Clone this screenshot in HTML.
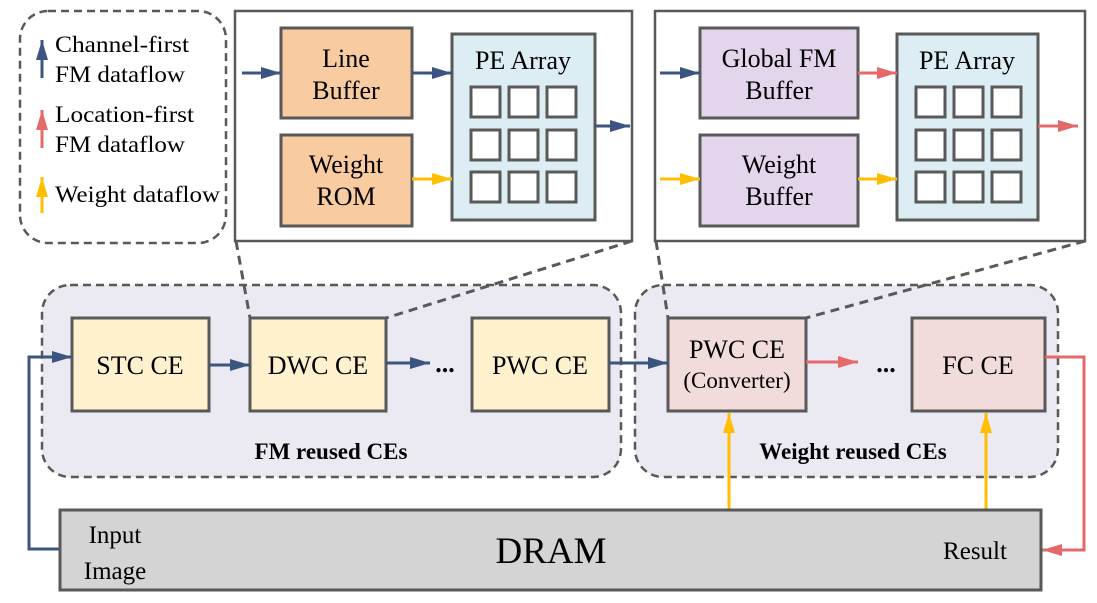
<!DOCTYPE html>
<html><head><meta charset="utf-8"><style>
html,body{margin:0;padding:0;background:#fff;}
svg{display:block;}
svg text{font-family:"Liberation Serif","DejaVu Serif",serif;}
</style></head><body>
<svg width="1097" height="603" viewBox="0 0 1097 603" xmlns="http://www.w3.org/2000/svg" font-family="Liberation Serif, DejaVu Serif, serif">
<defs>
<marker id="ab" viewBox="0 0 10 10" refX="10" refY="5" markerWidth="20" markerHeight="12" orient="auto" markerUnits="userSpaceOnUse" preserveAspectRatio="none"><path d="M0,0 L10,5 L0,10 Z" fill="#3b5580"/></marker>
<marker id="ar" viewBox="0 0 10 10" refX="10" refY="5" markerWidth="20" markerHeight="12" orient="auto" markerUnits="userSpaceOnUse" preserveAspectRatio="none"><path d="M0,0 L10,5 L0,10 Z" fill="#e46a6a"/></marker>
<marker id="ay" viewBox="0 0 10 10" refX="10" refY="5" markerWidth="20" markerHeight="12" orient="auto" markerUnits="userSpaceOnUse" preserveAspectRatio="none"><path d="M0,0 L10,5 L0,10 Z" fill="#ffbf00"/></marker>
</defs>

<!-- legend -->
<rect x="20" y="11" width="206" height="232" rx="28" fill="#fff" stroke="#595959" stroke-width="2.5" stroke-dasharray="8,5"/>
<line x1="42" y1="78" x2="42" y2="40" stroke="#3b5580" stroke-width="3" marker-end="url(#ab)"/>
<line x1="42" y1="148" x2="42" y2="110" stroke="#e46a6a" stroke-width="3" marker-end="url(#ar)"/>
<line x1="42" y1="213" x2="42" y2="177" stroke="#ffbf00" stroke-width="3" marker-end="url(#ay)"/>
<g font-size="23" fill="#000" font-family="Liberation Serif, serif">
<text x="55" y="52" textLength="134" lengthAdjust="spacingAndGlyphs">Channel-first</text>
<text x="55" y="82" textLength="130" lengthAdjust="spacingAndGlyphs">FM dataflow</text>
<text x="55" y="122" textLength="139" lengthAdjust="spacingAndGlyphs">Location-first</text>
<text x="55" y="152" textLength="130" lengthAdjust="spacingAndGlyphs">FM dataflow</text>
<text x="55" y="202" textLength="165" lengthAdjust="spacingAndGlyphs">Weight dataflow</text>
</g>

<!-- top-left box -->
<rect x="235" y="11" width="397" height="230" fill="#fff" stroke="#595959" stroke-width="2.5"/>
<rect x="281" y="28" width="131" height="90" fill="#f8cba0" stroke="#595959" stroke-width="3"/>
<rect x="281" y="135" width="131" height="91" fill="#f8cba0" stroke="#595959" stroke-width="3"/>
<rect x="452" y="34" width="143" height="186" fill="#ddedf4" stroke="#595959" stroke-width="3"/>
<g font-size="26" text-anchor="middle" font-family="Liberation Serif, serif">
<text x="346" y="67">Line</text><text x="346" y="99">Buffer</text>
<text x="346" y="173">Weight</text><text x="346" y="205">ROM</text>
<text x="523" y="69">PE Array</text>
</g>
<g fill="#fff" stroke="#595959" stroke-width="3">
<rect x="471" y="87" width="29" height="30"/><rect x="509" y="87" width="29" height="30"/><rect x="547" y="87" width="29" height="30"/>
<rect x="471" y="130" width="29" height="30"/><rect x="509" y="130" width="29" height="30"/><rect x="547" y="130" width="29" height="30"/>
<rect x="471" y="172" width="29" height="30"/><rect x="509" y="172" width="29" height="30"/><rect x="547" y="172" width="29" height="30"/>
</g>
<line x1="242" y1="73" x2="281" y2="73" stroke="#3b5580" stroke-width="3" marker-end="url(#ab)"/>
<line x1="412" y1="73" x2="452" y2="73" stroke="#3b5580" stroke-width="3" marker-end="url(#ab)"/>
<line x1="412" y1="179" x2="452" y2="179" stroke="#ffbf00" stroke-width="3" marker-end="url(#ay)"/>
<line x1="595" y1="126" x2="630" y2="126" stroke="#3b5580" stroke-width="3" marker-end="url(#ab)"/>

<!-- top-right box -->
<rect x="655" y="11" width="430" height="230" fill="#fff" stroke="#595959" stroke-width="2.5"/>
<rect x="700" y="28" width="158" height="90" fill="#e2d5ec" stroke="#595959" stroke-width="3"/>
<rect x="700" y="135" width="158" height="91" fill="#e2d5ec" stroke="#595959" stroke-width="3"/>
<rect x="897" y="34" width="141" height="186" fill="#ddedf4" stroke="#595959" stroke-width="3"/>
<g font-size="26" text-anchor="middle" font-family="Liberation Serif, serif">
<text x="779" y="67">Global FM</text><text x="779" y="99">Buffer</text>
<text x="779" y="173">Weight</text><text x="779" y="205">Buffer</text>
<text x="967" y="69">PE Array</text>
</g>
<g fill="#fff" stroke="#595959" stroke-width="3">
<rect x="916" y="87" width="29" height="30"/><rect x="954" y="87" width="29" height="30"/><rect x="992" y="87" width="29" height="30"/>
<rect x="916" y="130" width="29" height="30"/><rect x="954" y="130" width="29" height="30"/><rect x="992" y="130" width="29" height="30"/>
<rect x="916" y="172" width="29" height="30"/><rect x="954" y="172" width="29" height="30"/><rect x="992" y="172" width="29" height="30"/>
</g>
<line x1="660" y1="73" x2="700" y2="73" stroke="#3b5580" stroke-width="3" marker-end="url(#ab)"/>
<line x1="858" y1="73" x2="897" y2="73" stroke="#e46a6a" stroke-width="3" marker-end="url(#ar)"/>
<line x1="660" y1="179" x2="700" y2="179" stroke="#ffbf00" stroke-width="3" marker-end="url(#ay)"/>
<line x1="858" y1="179" x2="897" y2="179" stroke="#ffbf00" stroke-width="3" marker-end="url(#ay)"/>
<line x1="1038" y1="126" x2="1078" y2="126" stroke="#e46a6a" stroke-width="3" marker-end="url(#ar)"/>

<!-- groups -->
<rect x="42" y="285" width="579" height="192" rx="28" fill="#ebe9f1" stroke="#595959" stroke-width="2.5" stroke-dasharray="8,5"/>
<rect x="635" y="285" width="423" height="192" rx="28" fill="#ebe9f1" stroke="#595959" stroke-width="2.5" stroke-dasharray="8,5"/>
<g stroke="#595959" stroke-width="3" stroke-dasharray="9,6" fill="none">
<line x1="236" y1="241" x2="250" y2="318"/>
<line x1="632" y1="241" x2="386" y2="318"/>
<line x1="656" y1="241" x2="668" y2="318"/>
<line x1="1085" y1="241" x2="806" y2="318"/>
</g>

<g stroke="#595959" stroke-width="3">
<rect x="72" y="318" width="137" height="93" fill="#fff0ce"/>
<rect x="250" y="318" width="136" height="93" fill="#fff0ce"/>
<rect x="472" y="318" width="137" height="93" fill="#fff0ce"/>
<rect x="668" y="318" width="138" height="93" fill="#f2dbdb"/>
<rect x="912" y="318" width="133" height="93" fill="#f2dbdb"/>
</g>
<g font-size="26" text-anchor="middle" font-family="Liberation Serif, serif">
<text x="140" y="374">STC CE</text>
<text x="318" y="374">DWC CE</text>
<text x="540" y="374">PWC CE</text>
<text x="737" y="358">PWC CE</text>
<text x="737" y="388" font-size="23">(Converter)</text>
<text x="978" y="374">FC CE</text>
<text x="445" y="372" font-weight="bold">...</text>
<text x="886" y="372" font-weight="bold">...</text>
</g>
<g font-size="23" font-weight="bold" text-anchor="middle" font-family="Liberation Serif, serif">
<text x="331" y="459">FM reused CEs</text>
<text x="853" y="459">Weight reused CEs</text>
</g>

<line x1="209" y1="365" x2="250" y2="365" stroke="#3b5580" stroke-width="3" marker-end="url(#ab)"/>
<line x1="386" y1="363" x2="430" y2="363" stroke="#3b5580" stroke-width="3" marker-end="url(#ab)"/>
<line x1="609" y1="363" x2="668" y2="363" stroke="#3b5580" stroke-width="3" marker-end="url(#ab)"/>
<line x1="806" y1="362" x2="858" y2="362" stroke="#e46a6a" stroke-width="3" marker-end="url(#ar)"/>
<polyline points="60,549 29,549 29,357 72,357" fill="none" stroke="#3b5580" stroke-width="3" marker-end="url(#ab)"/>
<polyline points="1045,357 1084,357 1084,550 1042,550" fill="none" stroke="#e46a6a" stroke-width="3" marker-end="url(#ar)"/>
<line x1="729" y1="510" x2="729" y2="413" stroke="#ffbf00" stroke-width="3" marker-end="url(#ay)"/>
<line x1="986" y1="510" x2="986" y2="413" stroke="#ffbf00" stroke-width="3" marker-end="url(#ay)"/>

<!-- DRAM -->
<rect x="60" y="510" width="981" height="80" fill="#d3d4d3" stroke="#595959" stroke-width="3"/>
<g font-size="25" font-family="Liberation Serif, serif">
<text x="115" y="543" text-anchor="middle">Input</text>
<text x="115" y="579" text-anchor="middle">Image</text>
<text x="975" y="559" text-anchor="middle">Result</text>
</g>
<text x="551" y="563" font-size="37" text-anchor="middle" font-family="Liberation Serif, serif">DRAM</text>
</svg>
</body></html>
